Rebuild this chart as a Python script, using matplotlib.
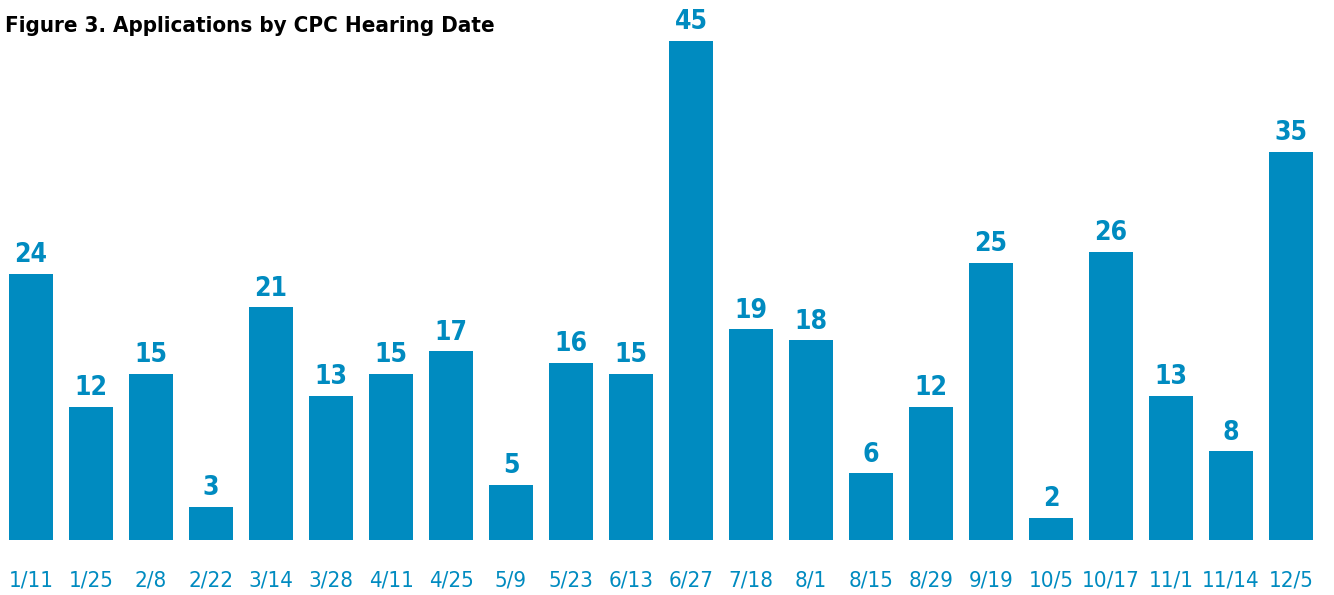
import matplotlib.pyplot as plt
import numpy as np

dates = ["1/11", "1/25", "2/8", "2/22", "3/14", "3/28", "4/11", "4/25", "5/9", "5/23", "6/13",
         "6/27", "7/18", "8/1", "8/15", "8/29", "9/19", "10/5", "10/17", "11/1", "11/14", "12/5"]
counts = [24, 12, 15, 3, 21, 13, 15, 17, 5, 16, 15, 45, 19, 18, 6, 12, 25, 2, 26, 13, 8, 35]

blue = "#008bc0"
plt.rcParams['font.family'] = ['DejaVu Sans']
plt.rcParams['font.stretch'] = 'condensed'

fig = plt.figure(figsize=(13.34, 5.95), dpi=100)
ax = fig.add_axes([1 / 1334, 55 / 595, 1320 / 1334, 499 / 595])
x = np.arange(len(dates))
ax.bar(x, counts, width=44 / 60, color=blue)
ax.set_xlim(-0.5, len(dates) - 0.5)
ax.set_ylim(0, 45)
for xi, c in zip(x, counts):
    ax.text(xi, c + 0.5, str(c), ha="center", va="bottom", fontsize=19,
            fontweight="bold", color=blue, clip_on=False)
ax.set_xticks(x)
ax.set_xticklabels(dates, fontsize=16, color=blue)
ax.tick_params(axis="x", length=0, pad=22)
ax.set_yticks([])
for s in ax.spines.values():
    s.set_visible(False)

fig.text(5 / 1334, 1 - 26 / 595, "Figure 3. Applications by CPC Hearing Date",
         fontsize=16, fontweight="bold", color="black", va="center", ha="left")

fig.savefig("out.png", dpi=100)
